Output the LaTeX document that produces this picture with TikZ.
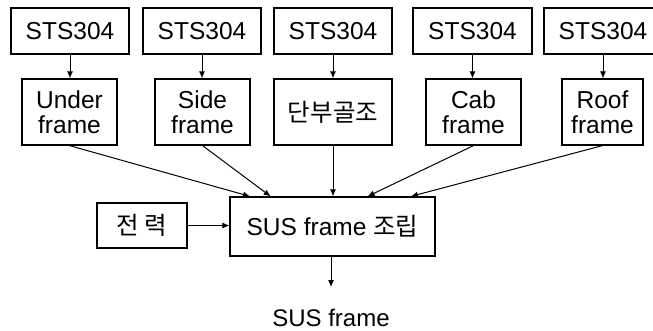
\documentclass[tikz,border=0pt]{standalone}
\usepackage{fontspec}
\setmainfont{Liberation Sans}
\newfontfamily\kr{Noto Sans CJK KR}
\usetikzlibrary{arrows.meta,calc}

\begin{document}
\begin{tikzpicture}[x=1pt,y=-1pt,
  box/.style={draw,line width=1.2pt,inner sep=0pt,align=center,font=\fontsize{24.5}{25}\selectfont},
  link/.style={line width=1pt,-{Latex[length=7pt,width=6pt]}}]
  \useasboundingbox (0,0) rectangle (653,331);
  % raw material
  \node[box,minimum width=118pt,minimum height=46pt] (t1) at (70,31) {STS304};
  \node[box,minimum width=118pt,minimum height=46pt] (t2) at (202,31) {STS304};
  \node[box,minimum width=118pt,minimum height=46pt] (t3) at (333,31) {STS304};
  \node[box,minimum width=119pt,minimum height=46pt] (t4) at (472.5,31) {STS304};
  \node[box,minimum width=118pt,minimum height=46pt] (t5) at (603,31) {STS304};
  % parts
  \node[box,minimum width=95pt,minimum height=66pt] (m1) at (69.5,112) {Under\\frame};
  \node[box,minimum width=95pt,minimum height=66pt] (m2) at (202.5,112) {Side\\frame};
  \node[box,minimum width=118pt,minimum height=66pt] (m3) at (333,112) {\kr 단부골조};
  \node[box,minimum width=95pt,minimum height=66pt] (m4) at (473.5,112) {Cab\\frame};
  \node[box,minimum width=81pt,minimum height=66pt] (m5) at (602.5,112) {Roof\\frame};
  % assembly
  \node[box,minimum width=205pt,minimum height=59pt] (c) at (332.5,226.5) {SUS frame {\kr 조립}};
  \node[box,minimum width=90pt,minimum height=45pt] (l) at (142,225.5) {\kr 전 력};
  \coordinate (outtip) at (331,287);
  \node[inner sep=0pt,font=\fontsize{24}{25}\selectfont] (out) at (331,318) {SUS frame};
  \foreach \i in {1,...,5}{\draw[link] (t\i.south) -- (t\i.south |- m\i.north);}
  \draw[link] (m1.south) -- ($(c.north west)!0.10!(c.north east)$);
  \draw[link] (m2.south) -- ($(c.north west)!0.20!(c.north east)$);
  \draw[link] (m3.south) -- (m3.south |- c.north);
  \draw[link] (m4.south) -- ($(c.north west)!0.67!(c.north east)$);
  \draw[link] (m5.south) -- ($(c.north west)!0.88!(c.north east)$);
  \draw[link] (l.east) -- (l.east -| c.west);
  \draw[link] (c.south -| outtip) -- (outtip);
\end{tikzpicture}
\end{document}
